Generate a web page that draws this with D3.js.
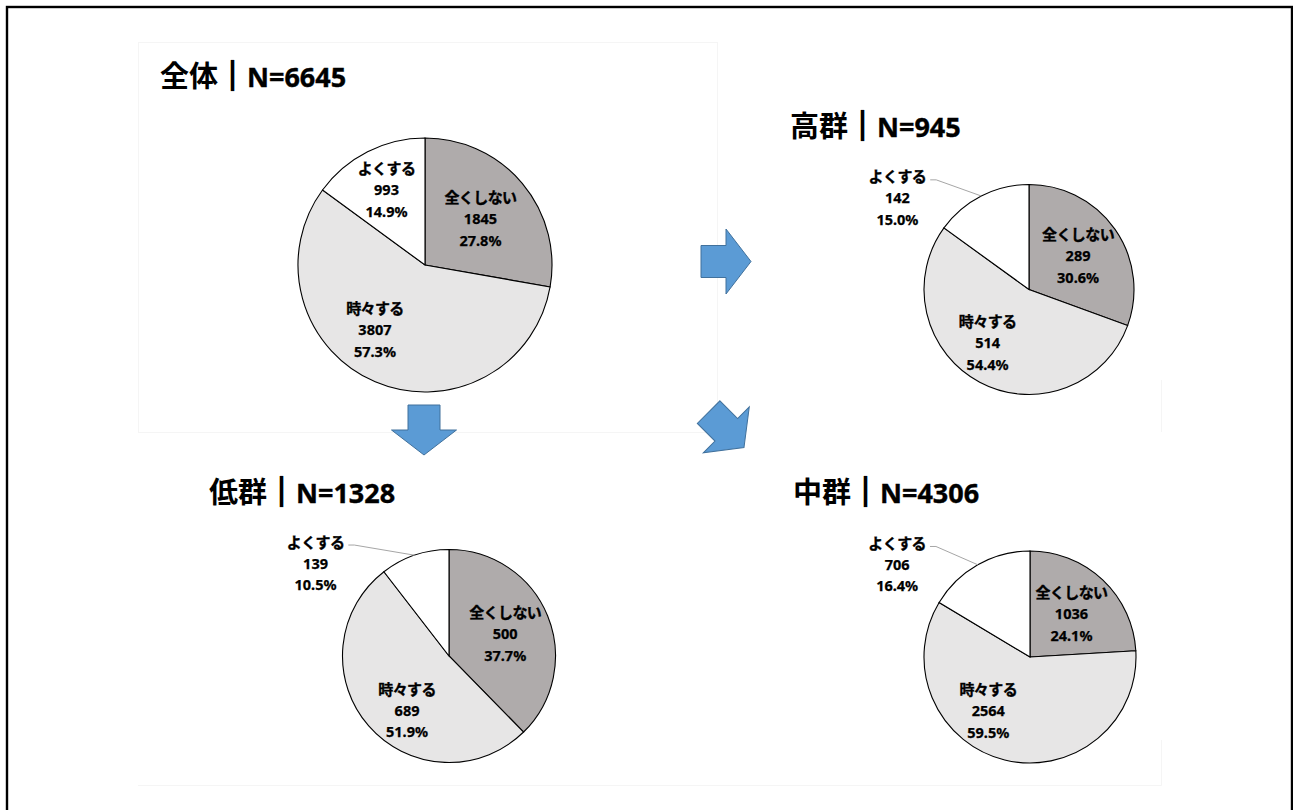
<!DOCTYPE html>
<html><head><meta charset="utf-8">
<script src="https://cdn.jsdelivr.net/npm/d3@7"></script>
<style>
html,body{margin:0;padding:0;background:#fff;}
svg{display:block;}
</style></head>
<body>
<svg id="chart" width="1293" height="810"></svg>
<script>
// ---------------- data ----------------
const groups = ['全体', '高群', '低群', '中群'];
const totals = [6645, 945, 1328, 4306];
const categories = ['全くしない', '時々する', 'よくする'];
const countsAll  = [1845, 3807, 993];
const countsHigh = [289, 514, 142];
const countsLow  = [500, 689, 139];
const countsMid  = [1036, 2564, 706];
const seriesCounts = [countsAll, countsHigh, countsLow, countsMid];

// ---------------- layout / style ----------------
const colors = ['#afabab', '#e7e6e6', '#ffffff'];
const layout = [
  {cx: 425,  cy: 265,   r: 127,   tx: 160, ty: 86.5, outsideSmall: false},
  {cx: 1029, cy: 289.5, r: 105,   tx: 790, ty: 136.5, outsideSmall: true},
  {cx: 449,  cy: 656,   r: 106.5, tx: 209, ty: 503,  outsideSmall: true},
  {cx: 1030, cy: 657,   r: 106,   tx: 793, ty: 503,  outsideSmall: true}
];
const labelRadius = [0.57, 0.64, 0.67];
const bigLabelAngle = 218 * Math.PI / 180;
const outsideAngle = 305 * Math.PI / 180, outsideDist = 1.53;
const lineGap = 21.5;
const jpFont = '"Noto Sans CJK JP", "Noto Sans", sans-serif';
const numFont = '"Noto Sans", "Open Sans", sans-serif';

const svg = d3.select('#chart');

// outer frame
svg.append('rect').attr('x', 7).attr('y', 7).attr('width', 1285).attr('height', 830)
  .attr('fill', 'none').attr('stroke', '#000').attr('stroke-width', 2.4);

// very faint chart-area borders
const faint = '#f5f5f5';
svg.append('rect').attr('x', 138.5).attr('y', 42.5).attr('width', 579).attr('height', 390)
  .attr('fill', 'none').attr('stroke', faint);
svg.append('line').attr('x1', 138).attr('x2', 1161.5).attr('y1', 785.5).attr('y2', 785.5).attr('stroke', faint);
svg.append('line').attr('x1', 1161.5).attr('x2', 1161.5).attr('y1', 380).attr('y2', 432).attr('stroke', faint);
svg.append('line').attr('x1', 1161.5).attr('x2', 1161.5).attr('y1', 740).attr('y2', 785.5).attr('stroke', faint);

// arrows (same block-arrow shape, rotated)
const arrowShape = [[-25,-16],[0,-16],[0,-32.5],[25,0],[0,32.5],[0,16],[-25,16]];
const arrows = [{x: 726, y: 261.5, rot: 0}, {x: 424, y: 430, rot: 90}, {x: 726.3, y: 429.8, rot: 45}];
svg.selectAll('path.arrow').data(arrows).join('path')
  .attr('class', 'arrow')
  .attr('d', d3.line()(arrowShape) + 'Z')
  .attr('transform', d => `translate(${d.x},${d.y}) rotate(${d.rot})`)
  .attr('fill', '#5b9bd5').attr('stroke', '#41719c').attr('stroke-width', 1);

const pie = d3.pie().sort(null).value(d => d);
const fmtPct = d3.format('.1%');

groups.forEach((g, gi) => {
  const L = layout[gi];
  const counts = seriesCounts[gi];
  const total = totals[gi];
  const arcs = pie(counts);
  const arc = d3.arc().innerRadius(0).outerRadius(L.r);
  const G = svg.append('g').attr('transform', `translate(${L.cx},${L.cy})`);

  G.selectAll('path.slice').data(arcs).join('path')
    .attr('class', 'slice')
    .attr('d', arc)
    .attr('fill', (d, i) => colors[i])
    .attr('stroke', '#000').attr('stroke-width', 1.1);

  // title
  const t = svg.append('text').attr('x', L.tx).attr('y', L.ty)
    .attr('font-weight', 700).attr('fill', '#000');
  t.append('tspan').attr('font-family', jpFont).attr('font-size', 29).text(g);
  t.append('tspan').attr('font-family', jpFont).attr('font-size', 29)
    .attr('stroke', '#000').attr('stroke-width', 2.2).text('｜');
  t.append('tspan').attr('font-family', numFont).attr('font-size', 27)
    .attr('stroke', '#000').attr('stroke-width', 0.4).text('N=' + total);

  // labels
  arcs.forEach((a, i) => {
    const frac = (a.endAngle - a.startAngle) / (2 * Math.PI);
    let ang = (a.startAngle + a.endAngle) / 2;
    let dist = labelRadius[i] * L.r;
    const outside = (i === 2 && L.outsideSmall);
    if (frac > 0.5) ang = bigLabelAngle;
    if (outside) { ang = outsideAngle; dist = outsideDist * L.r; }
    const x = Math.sin(ang) * dist, y = -Math.cos(ang) * dist;
    const lg = G.append('g').attr('transform', `translate(${x},${y})`);
    const nameT = lg.append('text').attr('y', -lineGap).attr('text-anchor', 'middle')
      .attr('dominant-baseline', 'central')
      .attr('font-family', jpFont).attr('font-weight', 700).attr('font-size', 15)
      .attr('stroke', '#000').attr('stroke-width', 0.35)
      .attr('letter-spacing', -0.6).text(categories[i]);
    lg.append('text').attr('y', 0).attr('text-anchor', 'middle')
      .attr('dominant-baseline', 'central')
      .attr('font-family', numFont).attr('font-weight', 700).attr('font-size', 14.5)
      .attr('stroke', '#000').attr('stroke-width', 0.25)
      .text(a.data);
    lg.append('text').attr('y', lineGap).attr('text-anchor', 'middle')
      .attr('dominant-baseline', 'central')
      .attr('font-family', numFont).attr('font-weight', 700).attr('font-size', 14.5)
      .attr('stroke', '#000').attr('stroke-width', 0.25)
      .text(fmtPct(a.data / total));
    if (outside) {
      const w = nameT.node().getComputedTextLength();
      const sx = x + w / 2 + 4, sy = y - lineGap + 4;
      const mid = (a.startAngle + a.endAngle) / 2;
      const ex = Math.sin(mid) * L.r, ey = -Math.cos(mid) * L.r;
      G.append('path')
        .attr('d', d3.line()([[sx, sy], [sx + 6, sy], [ex, ey]]))
        .attr('fill', 'none').attr('stroke', '#a6a6a6').attr('stroke-width', 1);
    }
  });
});
</script>
</body></html>
